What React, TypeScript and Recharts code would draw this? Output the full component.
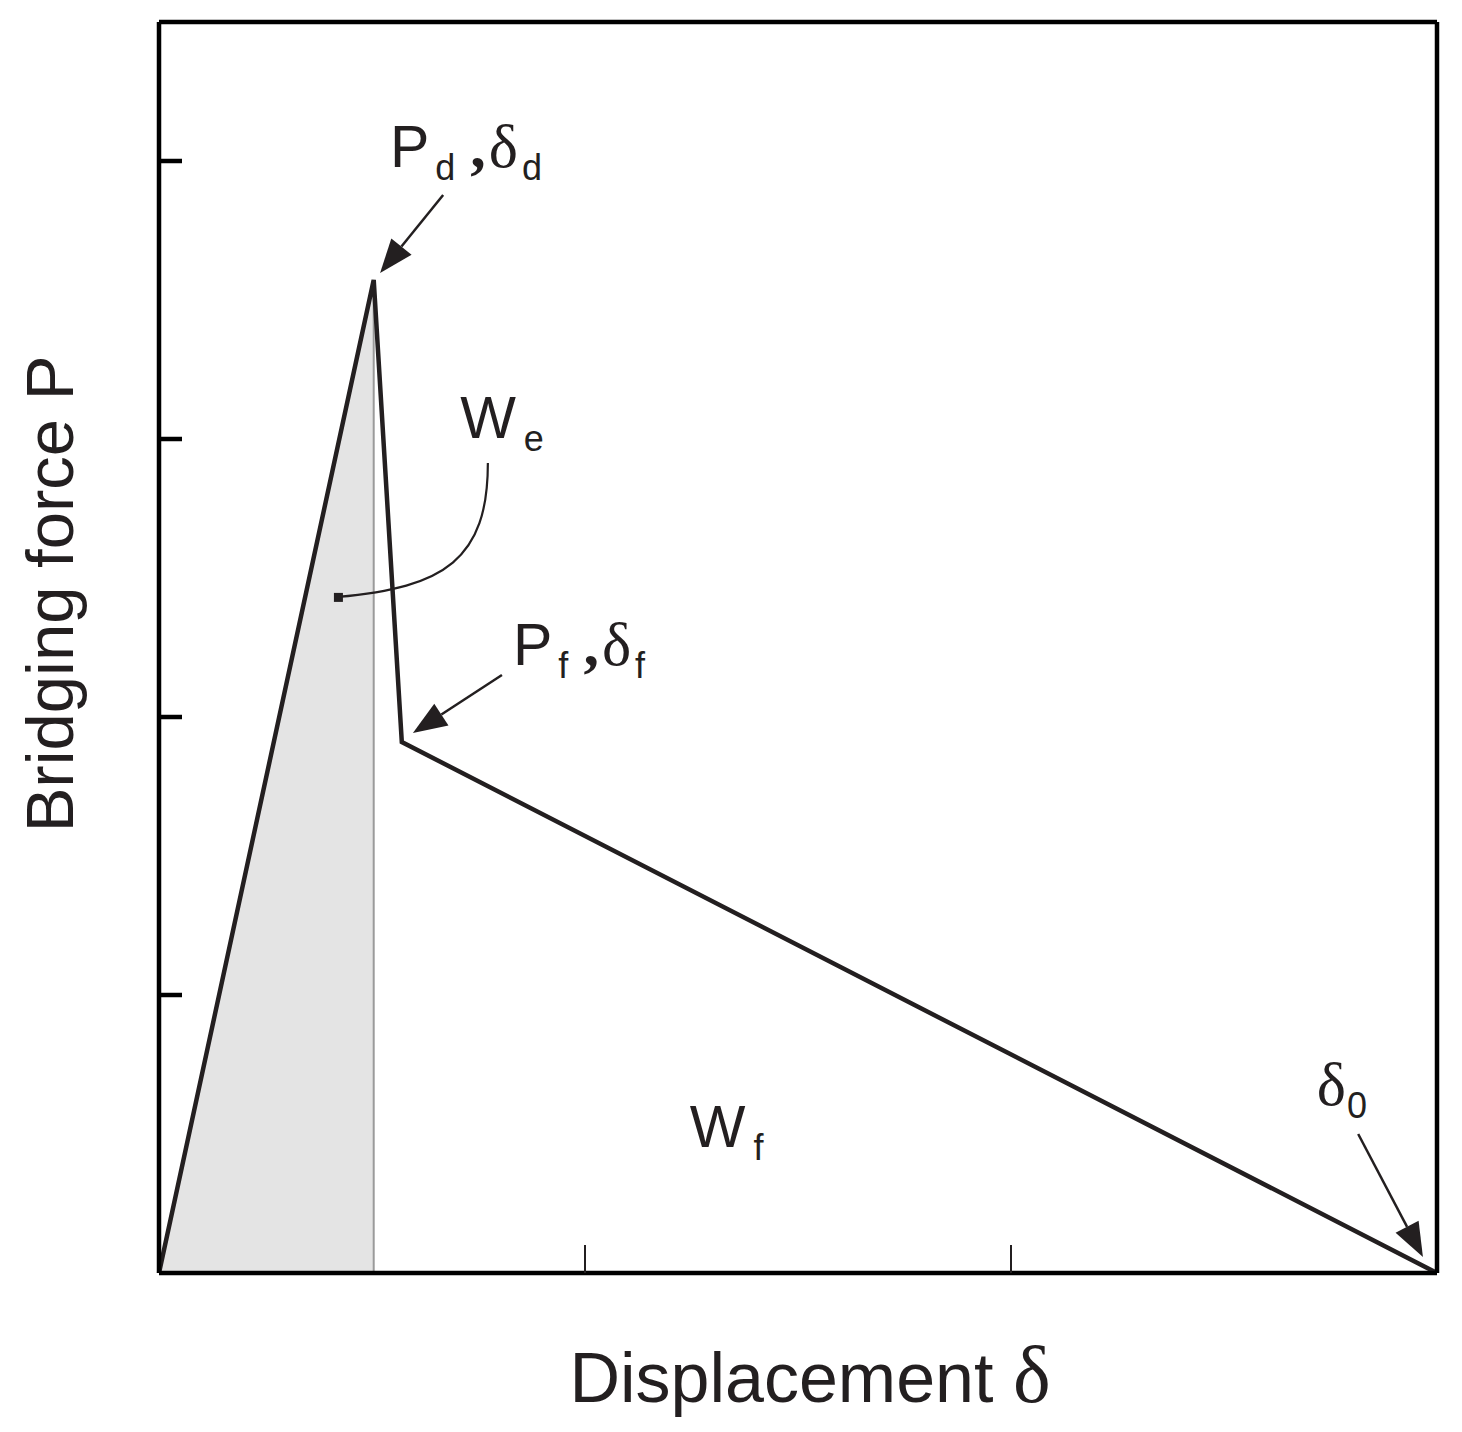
import React from "react";
import {
  ComposedChart,
  Line,
  Area,
  XAxis,
  YAxis,
  ReferenceLine,
  ReferenceDot,
} from "recharts";

// traction-separation curve (displacement δ vs bridging force P)
const displacement = [0, 0.504, 0.57, 3];
const force = [0, 3.572, 1.91, 0];
const elasticShade = [0, 3.572, null, null];

const xTicks = [1, 2];
const yTicks = [1, 2, 3, 4];

const data = displacement.map((d, i) => ({ d, p: force[i], we: elasticShade[i] }));

// annotation arrows: [fromD, fromP, toD, toP]
const arrows = [
  [0.667, 3.878, 0.519, 3.597],
  [0.805, 2.151, 0.596, 1.942],
  [2.815, 0.5, 2.967, 0.058],
];
const leader = [0.772, 2.914, 0.42, 2.432];

const INK = "#231f20";
const SANS = "'Liberation Sans', Arial, sans-serif";
const SERIF = "'Liberation Serif', 'Times New Roman', serif";
const MAIN = 59;
const SUB = 36;

type Piece = { t: string; serif?: boolean; sub?: boolean; bold?: boolean; dx?: number };

const labels: { d: number; p: number; parts: Piece[] }[] = [
  {
    d: 0.542,
    p: 3.978,
    parts: [
      { t: "P" },
      { t: "d", sub: true, dx: 6 },
      { t: ",", serif: true, bold: true, dx: 15 },
      { t: "δ", serif: true, dx: 3 },
      { t: "d", sub: true, dx: 4 },
    ],
  },
  { d: 0.707, p: 3.004, parts: [{ t: "W" }, { t: "e", sub: true, dx: 8 }] },
  {
    d: 0.831,
    p: 2.187,
    parts: [
      { t: "P" },
      { t: "f", sub: true, dx: 6 },
      { t: ",", serif: true, bold: true, dx: 15 },
      { t: "δ", serif: true, dx: 3 },
      { t: "f", sub: true, dx: 4 },
    ],
  },
  { d: 1.246, p: 0.453, parts: [{ t: "W" }, { t: "f", sub: true, dx: 8 }] },
  { d: 2.718, p: 0.604, parts: [{ t: "δ", serif: true }, { t: "0", sub: true, dx: 1 }] },
];

function RichText({ cx, cy, parts }: any) {
  let lowered = false;
  return (
    <text x={cx} y={cy} fill={INK}>
      {parts.map((pc: Piece, i: number) => {
        let dy = 0;
        if (pc.sub && !lowered) {
          dy = 13;
          lowered = true;
        } else if (!pc.sub && lowered) {
          dy = -13;
          lowered = false;
        }
        return (
          <tspan
            key={i}
            dx={pc.dx || 0}
            dy={dy}
            fontFamily={pc.serif ? SERIF : SANS}
            fontWeight={pc.bold ? 700 : 400}
            fontSize={pc.sub ? SUB : pc.serif ? 62 : MAIN}
          >
            {pc.t}
          </tspan>
        );
      })}
    </text>
  );
}

function Arrow({ x1, y1, x2, y2 }: any) {
  const ang = Math.atan2(y2 - y1, x2 - x1);
  const len = 34;
  const half = 13;
  const bx = x2 - len * Math.cos(ang);
  const by = y2 - len * Math.sin(ang);
  const nx = -Math.sin(ang) * half;
  const ny = Math.cos(ang) * half;
  return (
    <g>
      <line x1={x1} y1={y1} x2={bx} y2={by} stroke={INK} strokeWidth={2.5} />
      <polygon points={`${x2},${y2} ${bx + nx},${by + ny} ${bx - nx},${by - ny}`} fill={INK} />
    </g>
  );
}

function Leader({ x1, y1, x2, y2 }: any) {
  const dx = x2 - x1;
  const dy = y2 - y1;
  const c1x = x1;
  const c1y = y1 + 0.72 * dy;
  const c2x = x1 + 0.29 * dx;
  const c2y = y1 + 0.93 * dy;
  return (
    <g>
      <path
        d={`M${x1},${y1} C${c1x},${c1y} ${c2x},${c2y} ${x2},${y2}`}
        fill="none"
        stroke={INK}
        strokeWidth={2.2}
      />
      <rect x={x2 - 4} y={y2 - 4} width={9} height={9} fill={INK} />
    </g>
  );
}

const leftTick = ({ x, y }: any) => <line x1={x} y1={y} x2={x + 23} y2={y} stroke="#000" strokeWidth={4.5} />;
const rightTick = ({ x, y }: any) => <line x1={x} y1={y} x2={x - 23} y2={y} stroke="#000" strokeWidth={4.5} />;
const bottomTick = ({ x, y }: any) => <line x1={x} y1={y} x2={x} y2={y - 28} stroke={INK} strokeWidth={2} />;

const xLabel = ({ viewBox }: any) => (
  <text
    x={viewBox.x + viewBox.width / 2 + 12}
    y={viewBox.y + 129}
    textAnchor="middle"
    fill={INK}
    fontFamily={SANS}
    fontSize={70}
  >
    Displacement <tspan fontFamily={SERIF} fontSize={80}>δ</tspan>
  </text>
);

const yLabel = () => {
  const cx = 73;
  const cy = 594;
  return (
    <text
      x={cx}
      y={cy}
      transform={`rotate(-90, ${cx}, ${cy})`}
      textAnchor="middle"
      fill={INK}
      fontFamily={SANS}
      fontSize={67}
    >
      Bridging force P
    </text>
  );
};

const frame = { stroke: "#000", strokeWidth: 4.5 };

export default function App() {
  return (
    <div style={{ position: "absolute", left: 0, top: 0, background: "#fff" }}>
      <ComposedChart
        width={1462}
        height={1432}
        data={data}
        margin={{ top: 0, right: 0, bottom: 0, left: 0 }}
      >
        <XAxis
          dataKey="d"
          type="number"
          domain={[0, 3]}
          ticks={xTicks}
          height={159}
          axisLine={frame}
          tickLine={false}
          tickSize={0}
          tickMargin={0}
          tick={bottomTick}
          label={{ content: xLabel }}
        />
        <XAxis
          xAxisId="top"
          dataKey="d"
          type="number"
          orientation="top"
          domain={[0, 3]}
          height={22}
          axisLine={frame}
          tickLine={false}
          tick={false}
        />
        <YAxis
          type="number"
          domain={[0, 4.5]}
          ticks={yTicks}
          width={159}
          axisLine={frame}
          tickLine={false}
          tickSize={0}
          tickMargin={0}
          tick={leftTick}
          label={{ content: yLabel }}
        />
        <YAxis
          yAxisId="right"
          orientation="right"
          type="number"
          domain={[0, 4.5]}
          ticks={yTicks}
          width={25}
          axisLine={frame}
          tickLine={false}
          tickSize={0}
          tickMargin={0}
          tick={rightTick}
        />
        <Area
          dataKey="we"
          type="linear"
          fill="#e4e4e4"
          fillOpacity={1}
          stroke="none"
          isAnimationActive={false}
          connectNulls={false}
        />
        <ReferenceLine
          segment={[
            { x: displacement[1], y: 0 },
            { x: displacement[1], y: force[1] },
          ]}
          stroke="#9a9a9a"
          strokeWidth={2}
        />
        <Line
          dataKey="p"
          type="linear"
          stroke={INK}
          strokeWidth={4.5}
          dot={false}
          activeDot={false}
          isAnimationActive={false}
        />
        {arrows.map((a, i) => (
          <ReferenceLine
            key={i}
            segment={[
              { x: a[0], y: a[1] },
              { x: a[2], y: a[3] },
            ]}
            shape={(props: any) => <Arrow {...props} />}
          />
        ))}
        <ReferenceLine
          segment={[
            { x: leader[0], y: leader[1] },
            { x: leader[2], y: leader[3] },
          ]}
          shape={(props: any) => <Leader {...props} />}
        />
        {labels.map((l, i) => (
          <ReferenceDot
            key={"l" + i}
            x={l.d}
            y={l.p}
            r={0}
            shape={(props: any) => <RichText cx={props.cx} cy={props.cy} parts={l.parts} />}
          />
        ))}
      </ComposedChart>
    </div>
  );
}
